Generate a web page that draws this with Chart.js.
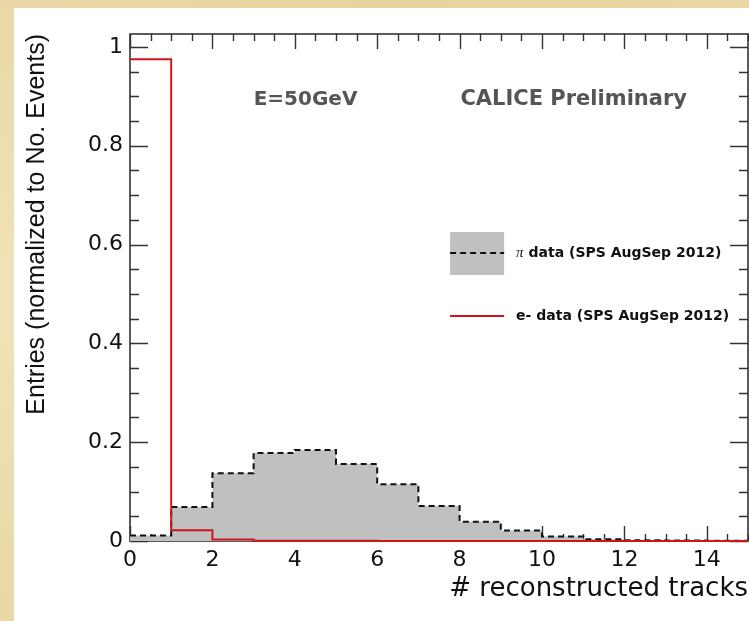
<!DOCTYPE html>
<html><head><meta charset="utf-8">
<script src="https://cdn.jsdelivr.net/npm/chart.js@4"></script>
<style>
html,body{margin:0;padding:0;width:749px;height:621px;overflow:hidden;
  background:radial-gradient(circle at 5px 300px,#f1e3b6 0,#e6d39c 60%,#ead9a6 100%);}
#panel{position:absolute;left:14px;top:8px;width:735px;height:613px;background:#fff;}
#wrap{position:absolute;left:0;top:0;width:749px;height:621px;}
</style></head><body>
<div id="panel"></div>
<div id="wrap"><canvas id="c" width="749" height="621"></canvas></div>
<script>
// ---- data ----
const binEdges = [0,1,2,3,4,5,6,7,8,9,10,11,12,13,14,15];
const piValues = [0.011,0.069,0.137,0.178,0.184,0.156,0.115,0.071,0.039,0.021,0.009,0.0035,0.0015,0.001,0.0005];
const eValues  = [0.975,0.022,0.003,0.0005,0.0004,0.0003,0.0002,0.0001,0.0001,0,0,0,0,0,0];
const xTickValues = [0,2,4,6,8,10,12,14];
const yTickValues = [0,0.2,0.4,0.6,0.8,1];
const piLabel = 'π data (SPS AugSep 2012)';
const eLabel = 'e- data (SPS AugSep 2012)';
const energyText = 'E=50GeV';
const caliceText = 'CALICE Preliminary';
const xTitle = '# reconstructed tracks';
const yTitle = 'Entries (normalized to No. Events)';

function toSteps(values){
  const pts = values.map((v,i)=>({x:binEdges[i], y:v}));
  pts.push({x:binEdges[values.length], y:values[values.length-1]});
  return pts;
}

const frameTicks = {
  id:'frameTicks',
  beforeDatasetsDraw(chart){
    const {ctx, chartArea:a, scales:{x,y}} = chart;
    ctx.save();
    ctx.strokeStyle = '#333';
    ctx.lineWidth = 1.4;
    // y ticks every 0.05, major every 0.2
    for (let k=0; k*0.05 <= y.max+1e-9; k++){
      const py = Math.round(y.getPixelForValue(k*0.05))+0.5;
      const L = (k%4===0) ? 18 : 9;
      ctx.beginPath();
      ctx.moveTo(a.left, py); ctx.lineTo(a.left+L, py);
      ctx.moveTo(a.right, py); ctx.lineTo(a.right-L, py);
      ctx.stroke();
    }
    for (let k=0; k*0.5 <= x.max+1e-9; k++){
      const px = Math.round(x.getPixelForValue(k*0.5))+0.5;
      const L = (k%4===0) ? 15 : 7;
      ctx.beginPath();
      ctx.moveTo(px, a.bottom); ctx.lineTo(px, a.bottom-L);
      ctx.moveTo(px, a.top); ctx.lineTo(px, a.top+L);
      ctx.stroke();
    }
    ctx.lineWidth = 1.6;
    ctx.strokeRect(a.left, a.top, a.right-a.left, a.bottom-a.top);
    ctx.restore();
  }
};

const annotations = {
  id:'annotations',
  afterDraw(chart){
    const {ctx, chartArea:a} = chart;
    const W = a.right-a.left, H = a.bottom-a.top;
    ctx.save();
    ctx.fillStyle = '#555';
    ctx.textBaseline = 'middle';
    ctx.textAlign = 'center';
    ctx.font = 'bold 20px "DejaVu Sans"';
    ctx.fillText(energyText, a.left + 0.284*W, a.top + 0.13*H);
    ctx.font = 'bold 21px "DejaVu Sans"';
    ctx.fillText(caliceText, a.left + 0.718*W, a.top + 0.13*H);

    // legend
    const lx = a.left + 0.518*W, lw = 54;
    const y1 = a.top + 0.432*H, y2 = a.top + 0.556*H;
    ctx.fillStyle = '#c0c0c0';
    ctx.fillRect(lx, y1-21, lw, 43);
    ctx.strokeStyle = '#111'; ctx.lineWidth = 2; ctx.setLineDash([6,4]);
    ctx.beginPath(); ctx.moveTo(lx, y1); ctx.lineTo(lx+lw, y1); ctx.stroke();
    ctx.setLineDash([]);
    ctx.strokeStyle = '#d0141e';
    ctx.beginPath(); ctx.moveTo(lx, y2); ctx.lineTo(lx+lw, y2); ctx.stroke();
    ctx.fillStyle = '#111';
    ctx.textAlign = 'left';
    const tx = lx + 66;
    ctx.font = 'italic 15px "Liberation Serif"';
    const pi = piLabel.slice(0,1);
    ctx.fillText(pi, tx, y1);
    const piW = ctx.measureText(pi).width;
    ctx.font = 'bold 14px "DejaVu Sans"';
    ctx.fillText(piLabel.slice(1), tx + piW, y1);
    ctx.fillText(eLabel, tx, y2);
    ctx.restore();
  }
};

new Chart(document.getElementById('c'), {
  type:'line',
  data:{
    datasets:[
      { label: eLabel, data: toSteps(eValues), stepped:true, borderColor:'#d0141e', borderWidth:2,
        pointRadius:0, fill:false, clip:4 },
      { label: piLabel, data: toSteps(piValues), stepped:true, borderColor:'#111', borderWidth:2,
        borderDash:[6,4], pointRadius:0, fill:'origin', backgroundColor:'#c0c0c0', clip:4 }
    ]
  },
  options:{
    responsive:false, devicePixelRatio:1, animation:false,
    layout:{padding:{left:14, top:34, right:1, bottom:0}},
    plugins:{legend:{display:false}, tooltip:{enabled:false}},
    scales:{
      x:{ type:'linear', min:0, max:15,
        grid:{display:false, drawTicks:false}, border:{display:false},
        afterBuildTicks: s => { s.ticks = xTickValues.map(v=>({value:v})); },
        afterFit: s => { s.height = 80; },
        ticks:{ padding:6, color:'#111', font:{family:'"DejaVu Sans"', size:22}, maxRotation:0,
          callback: v => String(v) },
        title:{ display:true, text:xTitle, align:'end', color:'#111',
          font:{family:'"DejaVu Sans"', size:26}, padding:{top:0, bottom:16} }
      },
      y:{ type:'linear', min:0, max:1.026,
        grid:{display:false, drawTicks:false}, border:{display:false},
        afterBuildTicks: s => { s.ticks = yTickValues.map(v=>({value:v})); },
        afterFit: s => { s.width = 116; },
        ticks:{ padding:7, color:'#111', font:{family:'"DejaVu Sans"', size:22},
          callback: v => String(Math.round(v*10)/10) },
        title:{ display:true, text:yTitle, align:'end', color:'#111',
          font:{family:'"Liberation Sans"', size:25}, padding:{top:8, bottom:0} }
      }
    }
  },
  plugins:[frameTicks, annotations]
});
</script>
</body></html>
